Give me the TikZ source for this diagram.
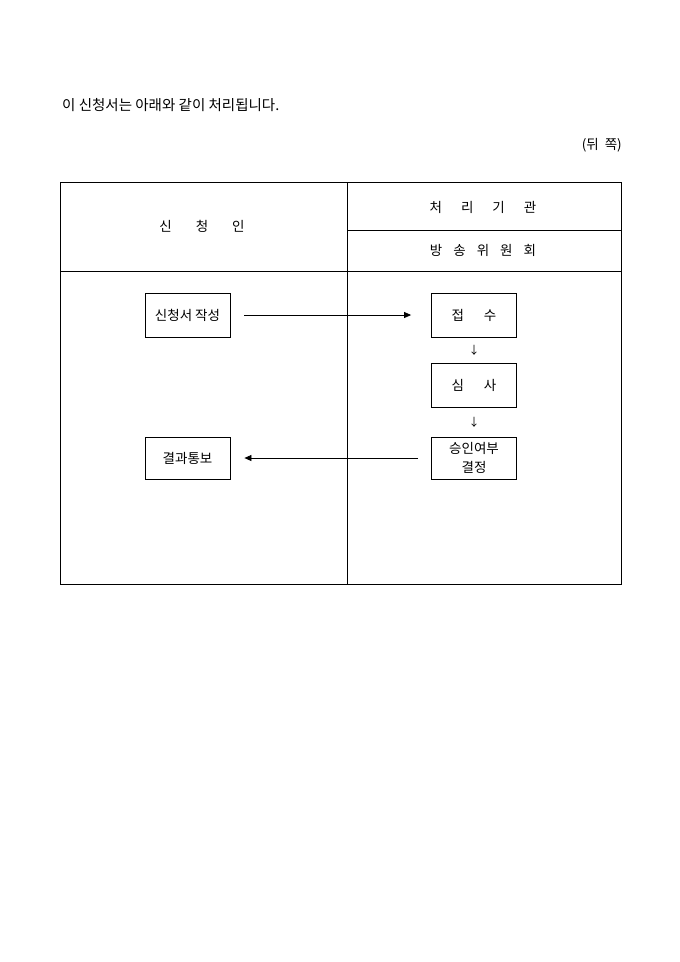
\documentclass[tikz,border=0pt]{standalone}
\usepackage{fontspec}
\setmainfont{Noto Sans CJK KR}
\usetikzlibrary{arrows.meta}
\begin{document}
\begin{tikzpicture}[x=1pt,y=-1pt,
  txt/.style={font=\fontsize{13.5}{16}\selectfont, inner sep=0pt},
  flowbox/.style={draw, line width=0.8pt, minimum width=85pt, minimum height=44pt, inner sep=0pt, align=center, font=\fontsize{13.5}{19}\selectfont},
  rule/.style={line width=0.8pt},
  flow/.style={line width=0.7pt, -{Triangle[length=7pt,width=6pt]}},
  downarrow/.style={font=\fontsize{11}{12}\selectfont, inner sep=0pt}]
\useasboundingbox (0,0) rectangle (680,962);
% texts above table
\node[txt, anchor=west, font=\fontsize{14.5}{16}\selectfont] (title) at (62,105) {이 신청서는 아래와 같이 처리됩니다.};
\node[txt, anchor=east] (side) at (622,145) {(뒤\hspace{6pt}쪽)};
% table
\draw[rule] (60,182) rectangle (621,584);
\draw[rule] (347,182) -- (347,584);
\draw[rule] (60,271) -- (621,271);
\draw[rule] (347,230) -- (621,230);
\node[txt] (hA) at (202,226) {신\hspace{24pt}청\hspace{24pt}인};
\node[txt] (hB) at (483,207) {처\hspace{19pt}리\hspace{19pt}기\hspace{19pt}관};
\node[txt] (hC) at (483,250) {방\hspace{11pt}송\hspace{11pt}위\hspace{11pt}원\hspace{11pt}회};
% flow boxes
\node[flowbox] (write) at (187.5,315) {신청서 작성};
\node[flowbox] (recv) at (474,315) {접\hspace{20pt}수};
\node[flowbox] (exam) at (474,385) {심\hspace{20pt}사};
\node[flowbox, minimum height=42pt] (decide) at (474,458) {승인여부\\결정};
\node[flowbox, minimum height=42pt] (notify) at (187.5,458) {결과통보};
% down arrows (text glyphs)
\node[downarrow] (d1) at (474,350) {↓};
\node[downarrow] (d2) at (474,422) {↓};
% connectors
\draw[flow, shorten <=14pt, shorten >=20pt] (write.east) -- (recv.west);
\draw[flow, shorten <=13pt, shorten >=14pt] (decide.west) -- (notify.east);
\end{tikzpicture}
\end{document}
